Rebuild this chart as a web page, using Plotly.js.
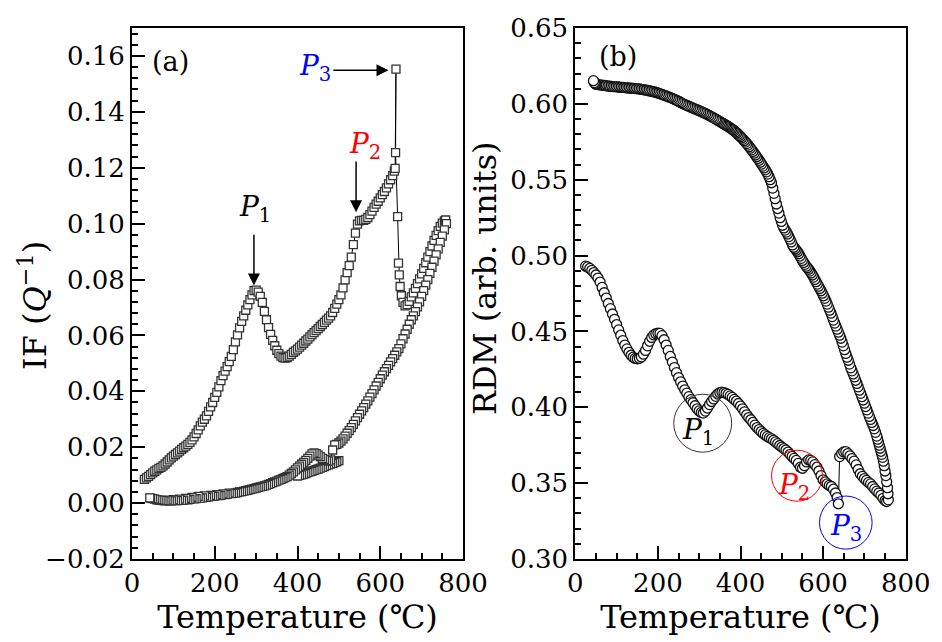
<!DOCTYPE html>
<html>
<head>
<meta charset="utf-8">
<script src="https://cdn.plot.ly/plotly-3.0.1.min.js"></script>
<style>html,body{margin:0;padding:0;background:#fff;}#chart{width:942px;height:642px;}</style>
</head>
<body>
<div id="chart"></div>
<script>
// ---------- Panel (a): internal friction ----------
const tempA_heat = [30,35,40,45,50,55,60,65,70,75,80,85,90,95,100,105,110,115,120,125,130,135,140,145,150,155,160,165,170,175,180,185,190,195,200,205,210,215,220,225,230,235,240,245,250,255,260,265,270,275,280,285,290,295,300,305,310,315,320,325,330,335,340,345,350,355,360,365,370,375,380,385,390,395,400,405,410,415,420,425,430,435,440,445,450,455,460,465,470,475,480,485,490,495,500,505,510,515,520,525,530,535,540,545,550,555,560,565,570,575,580,585,590,595,600,605,610,615,620,625,630,634,636,638,637,642,644,646,648,651,655,660,665,670,675,680,685,690,695,700,705,710,715,720,725,730,735,740,745,750,755,758];
const ifA_heat = [0.0085,0.0090,0.0096,0.0102,0.0108,0.0114,0.0119,0.0124,0.0128,0.0133,0.0140,0.0147,0.0155,0.0162,0.0168,0.0174,0.0180,0.0186,0.0192,0.0198,0.0204,0.0210,0.0217,0.0226,0.0237,0.0249,0.0262,0.0276,0.0290,0.0300,0.0312,0.0328,0.0344,0.0360,0.0378,0.0396,0.0416,0.0438,0.0456,0.0472,0.0488,0.0506,0.0525,0.0549,0.0577,0.0602,0.0627,0.0650,0.0670,0.0690,0.0709,0.0728,0.0745,0.0760,0.0762,0.0755,0.0740,0.0718,0.0686,0.0656,0.0628,0.0604,0.0582,0.0563,0.0547,0.0535,0.0526,0.0521,0.0519,0.0521,0.0526,0.0532,0.0539,0.0545,0.0551,0.0558,0.0565,0.0572,0.0580,0.0587,0.0595,0.0603,0.0610,0.0617,0.0624,0.0632,0.0639,0.0647,0.0655,0.0662,0.0670,0.0682,0.0697,0.0712,0.0728,0.0745,0.0770,0.0799,0.0825,0.0850,0.0880,0.0925,0.0966,0.0998,0.1010,0.1012,0.1012,0.1015,0.1022,0.1032,0.1045,0.1058,0.1070,0.1080,0.1092,0.1104,0.1115,0.1128,0.1142,0.1157,0.1172,0.1188,0.1198,0.1553,0.1254,0.1025,0.0859,0.0817,0.0775,0.0742,0.0718,0.0706,0.0710,0.0722,0.0738,0.0752,0.0768,0.0785,0.0802,0.0820,0.0840,0.0860,0.0880,0.0900,0.0920,0.0940,0.0958,0.0975,0.0990,0.1002,0.1010,0.1013];

const tempA_cool = [760,755,750,745,740,735,730,725,720,715,710,705,700,695,690,685,680,675,670,665,660,655,650,645,640,635,630,625,620,615,610,605,600,595,590,585,580,575,570,565,560,555,550,545,540,535,530,525,520,515,510,505,500,495,490,485,480,475,470,465,460,455,450,445,440,435,430,425,420,415,410,405,400,395,390,385,380,375,370,365,360,355,350,345,340,335,330,325,320,315,310,305,300,295,290,285,280,275,270,265,260,255,250,245,240,235,230,225,220,215,210,205,200,195,190,185,180,175,170,165,160,155,150,145,140,135,130,125,120,115,110,105,100,95,90,85,80,75,70,65,60,55,50,45,43];
const ifA_cool = [0.1000,0.0978,0.0955,0.0933,0.0910,0.0888,0.0866,0.0844,0.0822,0.0800,0.0780,0.0760,0.0740,0.0720,0.0702,0.0685,0.0670,0.0656,0.0640,0.0622,0.0605,0.0588,0.0570,0.0553,0.0541,0.0529,0.0517,0.0505,0.0493,0.0481,0.0470,0.0458,0.0445,0.0432,0.0419,0.0405,0.0392,0.0379,0.0366,0.0354,0.0342,0.0330,0.0318,0.0306,0.0294,0.0282,0.0270,0.0259,0.0250,0.0240,0.0230,0.0222,0.0215,0.0210,0.0208,0.0190,0.0155,0.0150,0.0152,0.0156,0.0160,0.0166,0.0172,0.0177,0.0180,0.0176,0.0168,0.0160,0.0153,0.0146,0.0139,0.0132,0.0126,0.0119,0.0112,0.0106,0.0100,0.0095,0.0091,0.0088,0.0085,0.0082,0.0079,0.0076,0.0073,0.0070,0.0067,0.0064,0.0062,0.0060,0.0058,0.0056,0.0054,0.0052,0.0050,0.0048,0.0046,0.0045,0.0043,0.0041,0.0040,0.0038,0.0036,0.0035,0.0034,0.0036,0.0031,0.0030,0.0033,0.0028,0.0027,0.0030,0.0025,0.0024,0.0028,0.0022,0.0021,0.0026,0.0019,0.0018,0.0024,0.0016,0.0015,0.0020,0.0013,0.0012,0.0017,0.0011,0.0010,0.0014,0.0009,0.0009,0.0012,0.0008,0.0008,0.0011,0.0008,0.0009,0.0010,0.0011,0.0012,0.0014,0.0016,0.0018,0.0019];

const tempA_cool2 = [500,495,490,485,480,475,470,465,460,455,450,445,440,435,430,425,420,415,410,405,400];
const ifA_cool2 = [0.0152,0.0148,0.0145,0.0142,0.0140,0.0137,0.0134,0.0131,0.0128,0.0125,0.0122,0.0120,0.0117,0.0114,0.0112,0.0109,0.0106,0.0104,0.0101,0.0099,0.0097];

// ---------- Panel (b): RDM ----------
const tempB_heat = [25,30,35,40,45,50,55,60,65,70,75,80,85,90,95,100,105,110,115,120,125,130,135,140,145,150,155,160,165,170,175,180,185,190,195,200,205,210,215,220,225,230,235,240,245,250,255,260,265,270,275,280,285,290,295,300,305,310,315,320,325,330,335,340,345,350,355,360,365,370,375,380,385,390,395,400,405,410,415,420,425,430,435,440,445,450,455,460,465,470,475,480,485,490,495,500,505,510,515,520,525,530,535,540,545,550,555,560,565,570,575,580,585,590,595,600,605,610,615,620,625,630,634,637,640,645,650,655,660,665,670,675,680,685,690,695,700,705,710,715,720,725,730,735,740,745,750,754];
const rdmB_heat = [0.4930,0.4925,0.4915,0.4903,0.4888,0.4872,0.4852,0.4825,0.4790,0.4755,0.4720,0.4684,0.4650,0.4615,0.4580,0.4545,0.4510,0.4475,0.4440,0.4410,0.4385,0.4362,0.4343,0.4330,0.4322,0.4320,0.4323,0.4332,0.4350,0.4375,0.4405,0.4435,0.4460,0.4477,0.4485,0.4488,0.4487,0.4472,0.4445,0.4410,0.4375,0.4335,0.4298,0.4262,0.4228,0.4196,0.4168,0.4140,0.4115,0.4093,0.4070,0.4050,0.4030,0.4010,0.3990,0.3976,0.3966,0.3962,0.3975,0.3995,0.4018,0.4038,0.4055,0.4072,0.4087,0.4097,0.4100,0.4097,0.4092,0.4085,0.4075,0.4065,0.4052,0.4040,0.4025,0.4008,0.3990,0.3970,0.3950,0.3932,0.3918,0.3900,0.3882,0.3866,0.3853,0.3840,0.3828,0.3818,0.3808,0.3800,0.3792,0.3782,0.3772,0.3760,0.3748,0.3738,0.3728,0.3718,0.3705,0.3690,0.3676,0.3663,0.3650,0.3630,0.3605,0.3598,0.3615,0.3640,0.3653,0.3650,0.3640,0.3622,0.3605,0.3580,0.3550,0.3522,0.3508,0.3495,0.3485,0.3478,0.3460,0.3435,0.3405,0.3364,0.3675,0.3695,0.3706,0.3708,0.3695,0.3680,0.3662,0.3645,0.3620,0.3590,0.3562,0.3545,0.3530,0.3518,0.3505,0.3495,0.3478,0.3462,0.3447,0.3435,0.3420,0.3400,0.3385,0.3379];

const tempB_cool = [758,757,756,754,752,750,748,746,744,742,740,738,736,734,732,730,727,724,721,718,715,712,709,706,703,700,697,694,691,688,685,682,679,676,673,670,667,664,661,658,655,652,649,646,643,640,637,634,631,628,625,622,619,616,613,610,607,604,601,598,595,592,589,586,583,580,577,574,571,568,565,562,559,556,553,550,547,544,541,538,535,532,529,526,523,520,517,514,511,508,505,502,499,496,493,490,487,484,481,478,475,472,469,466,463,460,457,454,451,448,445,442,439,436,433,430,427,424,421,418,415,412,409,406,403,400,397,394,391,388,385,382,379,376,373,370,367,364,361,358,355,352,349,346,343,340,336,332,328,324,320,316,312,308,304,300,296,292,288,284,280,276,272,268,264,260,256,252,248,244,240,236,232,228,224,220,216,212,208,204,200,196,192,188,184,180,176,172,168,164,160,156,152,148,144,140,136,132,128,124,120,116,112,108,104,100,96,92,88,84,80,76,72,68,64,60,56,52,50,48,46,44];
const rdmB_cool = [0.3390,0.3430,0.3470,0.3510,0.3550,0.3580,0.3615,0.3645,0.3670,0.3690,0.3710,0.3730,0.3750,0.3770,0.3790,0.3810,0.3835,0.3858,0.3880,0.3900,0.3920,0.3940,0.3962,0.3983,0.4005,0.4027,0.4048,0.4070,0.4092,0.4113,0.4135,0.4157,0.4178,0.4200,0.4220,0.4240,0.4260,0.4285,0.4310,0.4330,0.4355,0.4380,0.4405,0.4430,0.4455,0.4475,0.4495,0.4515,0.4535,0.4555,0.4575,0.4598,0.4620,0.4640,0.4660,0.4680,0.4700,0.4718,0.4735,0.4752,0.4768,0.4783,0.4798,0.4812,0.4828,0.4843,0.4858,0.4872,0.4885,0.4898,0.4910,0.4920,0.4930,0.4942,0.4955,0.4968,0.4982,0.4997,0.5012,0.5025,0.5035,0.5045,0.5055,0.5070,0.5090,0.5108,0.5125,0.5142,0.5155,0.5168,0.5182,0.5200,0.5225,0.5250,0.5280,0.5310,0.5340,0.5375,0.5410,0.5445,0.5480,0.5500,0.5520,0.5537,0.5552,0.5565,0.5578,0.5590,0.5603,0.5615,0.5628,0.5640,0.5652,0.5663,0.5675,0.5686,0.5697,0.5708,0.5718,0.5728,0.5738,0.5748,0.5757,0.5766,0.5775,0.5784,0.5792,0.5800,0.5808,0.5815,0.5822,0.5828,0.5834,0.5840,0.5846,0.5851,0.5856,0.5861,0.5866,0.5870,0.5875,0.5880,0.5885,0.5890,0.5895,0.5900,0.5906,0.5912,0.5918,0.5924,0.5930,0.5935,0.5940,0.5945,0.5950,0.5955,0.5960,0.5964,0.5968,0.5973,0.5978,0.5983,0.5988,0.5992,0.5997,0.6002,0.6008,0.6014,0.6020,0.6025,0.6030,0.6035,0.6040,0.6044,0.6048,0.6052,0.6056,0.6060,0.6064,0.6068,0.6072,0.6075,0.6078,0.6080,0.6083,0.6085,0.6088,0.6090,0.6092,0.6094,0.6096,0.6098,0.6099,0.6100,0.6101,0.6102,0.6103,0.6104,0.6105,0.6106,0.6107,0.6108,0.6109,0.6110,0.6111,0.6112,0.6113,0.6114,0.6115,0.6116,0.6117,0.6119,0.6121,0.6122,0.6124,0.6125,0.6127,0.6128,0.6130,0.6135,0.6140,0.6153];

// tick / label text
const xTitle = 'Temperature (℃)';
const yTitleA = 'IF (<i>Q</i><sup>−1</sup>)';
const yTitleB = 'RDM (arb. units)';

const FONT = '"DejaVu Serif", "Liberation Serif", serif';

const sqMarker = {symbol: 'square', size: 8, color: '#ffffff', line: {color: '#333333', width: 1.3}};
const ciMarker = {symbol: 'circle', size: 10, color: '#ffffff', line: {color: '#111111', width: 1.3}};

const traces = [
  {x: tempA_heat, y: ifA_heat, xaxis: 'x', yaxis: 'y', mode: 'lines+markers', line: {color: '#000', width: 1}, marker: sqMarker, showlegend: false},
  {x: tempA_cool2, y: ifA_cool2, xaxis: 'x', yaxis: 'y', mode: 'markers', marker: sqMarker, showlegend: false},
  {x: tempA_cool, y: ifA_cool, xaxis: 'x', yaxis: 'y', mode: 'lines+markers', line: {color: '#000', width: 1}, marker: sqMarker, showlegend: false},
  {x: tempB_heat.concat(tempB_cool), y: rdmB_heat.concat(rdmB_cool), xaxis: 'x2', yaxis: 'y2', mode: 'lines+markers', line: {color: '#000', width: 1}, marker: ciMarker, showlegend: false}
];

function xAx(domain) {
  return {
    domain: domain, range: [0, 800], tick0: 0, dtick: 200,
    ticks: 'inside', ticklen: 13, tickwidth: 2, tickcolor: '#000',
    minor: {dtick: 50, ticks: 'inside', ticklen: 6, tickwidth: 2, tickcolor: '#000'},
    showline: true, linewidth: 2, linecolor: '#000', mirror: true,
    showgrid: false, zeroline: false,
    tickfont: {family: FONT, size: 26, color: '#000'},
    title: {text: xTitle, font: {family: FONT, size: 32, color: '#000'}, standoff: 8},
    automargin: false
  };
}
function yAx(range, dtick, mdtick, anchor) {
  return {
    domain: [0, 1], range: range, dtick: dtick, tick0: 0, tickformat: '.2f', anchor: anchor,
    ticks: 'inside', ticklen: 13, tickwidth: 2, tickcolor: '#000',
    minor: {dtick: mdtick, ticks: 'inside', ticklen: 6, tickwidth: 2, tickcolor: '#000'},
    showline: true, linewidth: 2, linecolor: '#000', mirror: true,
    showgrid: false, zeroline: false,
    tickfont: {family: FONT, size: 26, color: '#000'},
    automargin: false
  };
}

const pFont = (c) => ({family: FONT, size: 28, color: c});
const arrowBase = {text: '', showarrow: true, arrowhead: 2, arrowsize: 1.6, arrowwidth: 1.5, arrowcolor: '#000', axref: 'x', ayref: 'y', xref: 'x', yref: 'y', standoff: 0, startstandoff: 0};

const annotations = [
  {xref: 'x', yref: 'y', x: 94, y: 0.158, text: '(a)', showarrow: false, font: {family: FONT, size: 27, color: '#000'}},
  {xref: 'x2', yref: 'y2', x: 103, y: 0.631, text: '(b)', showarrow: false, font: {family: FONT, size: 27, color: '#000'}},
  {xref: 'x', yref: 'y', x: 442, y: 0.1558, text: '<i>P</i><sub>3</sub>', showarrow: false, font: pFont('#0000ff')},
  {xref: 'x', yref: 'y', x: 563, y: 0.1278, text: '<i>P</i><sub>2</sub>', showarrow: false, font: pFont('#ff0000')},
  {xref: 'x', yref: 'y', x: 297, y: 0.1054, text: '<i>P</i><sub>1</sub>', showarrow: false, font: pFont('#000000')},
  Object.assign({}, arrowBase, {x: 620, y: 0.1549, ax: 483, ay: 0.1549}),
  Object.assign({}, arrowBase, {x: 541.6, y: 0.1041, ax: 541.6, ay: 0.1228}),
  Object.assign({}, arrowBase, {x: 294.7, y: 0.0779, ax: 294.7, ay: 0.0966}),
  {xref: 'x2', yref: 'y2', x: 297, y: 0.3839, text: '<i>P</i><sub>1</sub>', showarrow: false, font: pFont('#000000')},
  {xref: 'x2', yref: 'y2', x: 529, y: 0.3476, text: '<i>P</i><sub>2</sub>', showarrow: false, font: pFont('#ff0000')},
  {xref: 'x2', yref: 'y2', x: 655, y: 0.3206, text: '<i>P</i><sub>3</sub>', showarrow: false, font: pFont('#0000ff')},
  {xref: 'paper', yref: 'paper', x: 33/942, y: (559 - 306)/531, xanchor: 'center', yanchor: 'middle', text: yTitleA, textangle: -90, showarrow: false, font: {family: FONT, size: 32, color: '#000'}},
  {xref: 'paper', yref: 'paper', x: 485/942, y: (559 - 278)/531, xanchor: 'center', yanchor: 'middle', text: yTitleB, textangle: -90, showarrow: false, font: {family: FONT, size: 32, color: '#000'}}
];

const shapes = [
  {type: 'circle', xref: 'x2', yref: 'y2', x0: 238.3, x1: 378.7, y0: 0.3704, y1: 0.4086, line: {color: '#333333', width: 1}},
  {type: 'circle', xref: 'x2', yref: 'y2', x0: 475.1, x1: 598.5, y0: 0.3381, y1: 0.3717, line: {color: '#ff0000', width: 1}},
  {type: 'circle', xref: 'x2', yref: 'y2', x0: 591.3, x1: 718.7, y0: 0.3065, y1: 0.3415, line: {color: '#0000ff', width: 1}}
];

const layout = {
  width: 942, height: 642,
  margin: {l: 0, r: 0, t: 28, b: 83},
  paper_bgcolor: '#ffffff', plot_bgcolor: '#ffffff',
  font: {family: FONT, color: '#000'},
  xaxis: xAx([132/942, 463/942]),
  yaxis: yAx([-0.02, 0.17], 0.02, 0.004, 'x'),
  xaxis2: Object.assign(xAx([575.3/942, 905.7/942]), {anchor: 'y2'}),
  yaxis2: yAx([0.30, 0.65], 0.05, 0.01, 'x2'),
  annotations: annotations,
  shapes: shapes,
  showlegend: false
};
layout.xaxis.anchor = 'y';

Plotly.newPlot('chart', traces, layout, {staticPlot: true, displayModeBar: false});
</script>
</body>
</html>
